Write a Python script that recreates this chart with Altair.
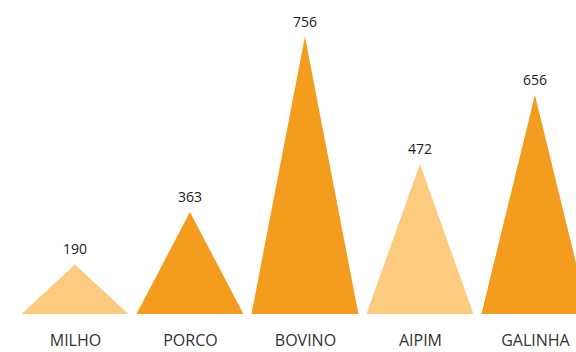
import json
import altair as alt
import pandas as pd

# ---- data ----
categories = ["MILHO", "PORCO", "BOVINO", "AIPIM", "GALINHA"]
values = [190, 363, 756, 472, 656]            # printed labels
heights = [135, 278, 756, 409, 597]           # drawn triangle heights (same scale as BOVINO)
tones = ["light", "dark", "dark", "light", "dark"]

HALF = 0.465  # half base width of a triangle, in category steps

rows = []
for i, (c, h, t) in enumerate(zip(categories, heights, tones)):
    for k, (off, yy) in enumerate(((-HALF, 0), (0, h), (HALF, 0))):
        rows.append({"cat": c, "px": i + off, "py": yy, "tone": t, "k": k})
tri = pd.DataFrame(rows)

lab = pd.DataFrame({"cat": categories, "idx": list(range(len(categories))),
                    "value": values, "h": heights})

xscale = alt.Scale(domain=[-0.652, 4.357], nice=False, zero=False)
yscale = alt.Scale(domain=[0, 855.5], nice=False, zero=True)

label_expr = json.dumps(categories) + "[datum.value]"

areas = alt.Chart(tri).mark_area(interpolate="linear").encode(
    x=alt.X("px:Q", scale=xscale,
            axis=alt.Axis(values=list(range(len(categories))), labelExpr=label_expr,
                          title=None, grid=False, domain=False, ticks=False,
                          labelFontSize=16, labelColor="#333333", labelFont="Open Sans",
                          labelPadding=18)),
    y=alt.Y("py:Q", scale=yscale, axis=None, stack=None),
    color=alt.Color("tone:N", scale=alt.Scale(domain=["light", "dark"],
                                              range=["#FCCB80", "#F39C1E"]), legend=None),
    detail="cat:N",
)

texts = alt.Chart(lab).mark_text(
    baseline="alphabetic", dy=-10, fontSize=14, font="Open Sans", color="#222222"
).encode(
    x=alt.X("idx:Q", scale=xscale),
    y=alt.Y("h:Q", scale=yscale),
    text="value:Q",
)

chart = alt.layer(areas, texts).properties(
    width=576, height=314,
    autosize=alt.AutoSizeParams(type="none"),
    padding={"left": 0, "top": 0, "right": 0, "bottom": 38},
    background="white",
).configure_view(stroke=None)

chart.save("out.html", embed_options={"renderer": "svg", "actions": False})
